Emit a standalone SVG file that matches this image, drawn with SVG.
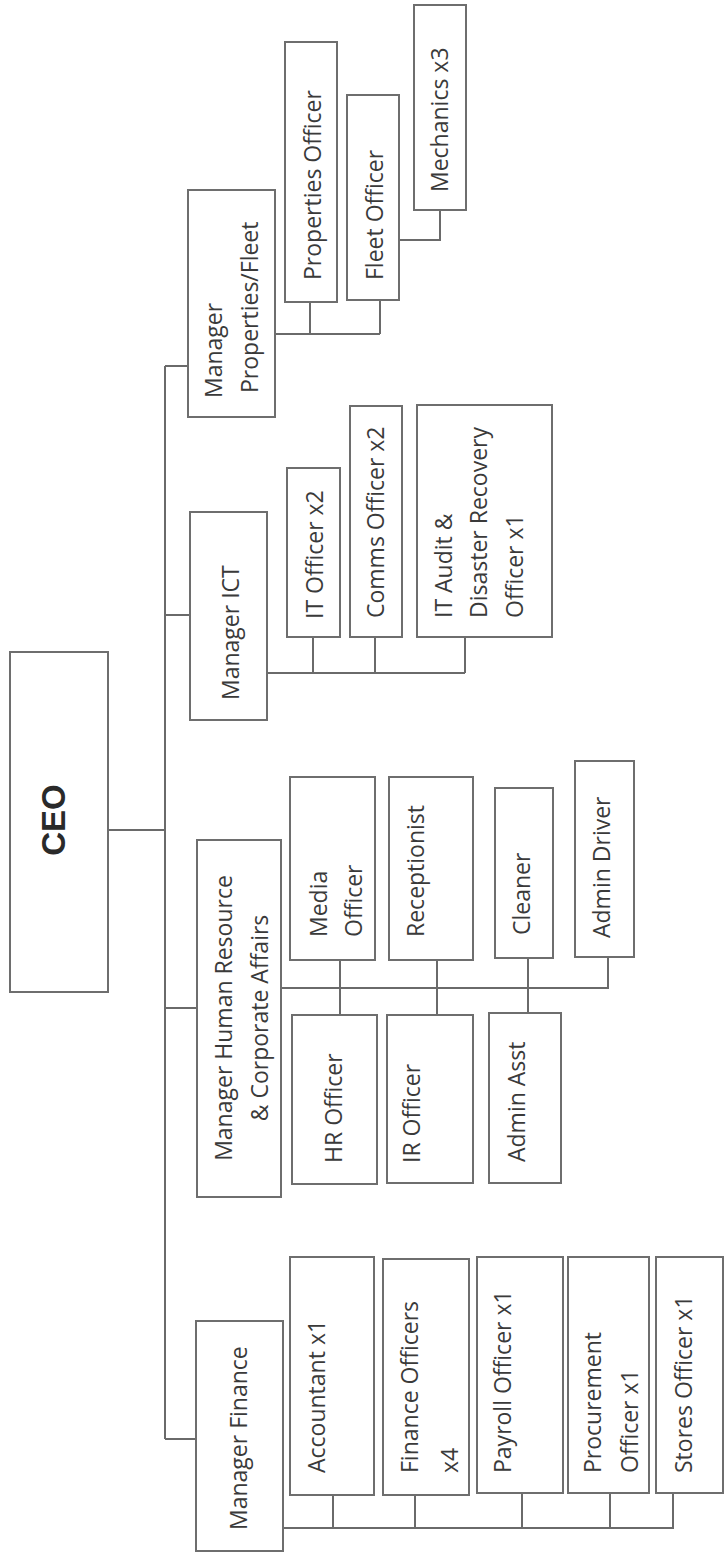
<svg xmlns="http://www.w3.org/2000/svg" width="725" height="1561" viewBox="0 0 725 1561">
<style>
.b{fill:#fff;stroke:#6e6e6e;stroke-width:2}
.t{font-family:"Open Sans","Liberation Sans",sans-serif;font-size:23px;fill:#3a3a3a}
.c{font-family:"Liberation Sans",Arial,sans-serif;font-size:33px;font-weight:bold;fill:#2a2a2a;text-anchor:middle}
.l{fill:none;stroke:#6a6a6a;stroke-width:2}
</style>
<rect width="725" height="1561" fill="#fff"/>
<g id="connectors" class="l">
<path d="M165,366V1439M165,366H188M165,615H190M108,830H165M165,1008H197M165,1439H196"/>
<path d="M275,334H380M310,334V302M380,334V300M399,240H440V210"/>
<path d="M267,673H465M313,637V673M375,637V673M465,637V673"/>
<path d="M281,988H608V957M340,960V1015M437,960V1015M528,958V1013"/>
<path d="M283,1528H673V1493M333,1495V1528M415,1495V1528M522,1493V1528M610,1493V1528"/>
</g>
<g id="ceo"><rect class="b" x="10" y="652" width="98" height="340"/><text class="c" transform="translate(65,820) rotate(-90)">CEO</text></g>
<g id="mgr-properties"><rect class="b" x="188" y="190" width="87" height="227"/><text class="t" transform="translate(222,398) rotate(-90)">Manager</text><text class="t" transform="translate(258,393) rotate(-90)">Properties/Fleet</text></g>
<g id="properties-officer"><rect class="b" x="285" y="42" width="52" height="260"/><text class="t" transform="translate(321,280) rotate(-90)">Properties Officer</text></g>
<g id="fleet-officer"><rect class="b" x="347" y="95" width="52" height="205"/><text class="t" transform="translate(383,280) rotate(-90)">Fleet Officer</text></g>
<g id="mechanics"><rect class="b" x="414" y="5" width="52" height="205"/><text class="t" transform="translate(448,192) rotate(-90)">Mechanics x3</text></g>
<g id="mgr-ict"><rect class="b" x="190" y="512" width="77" height="208"/><text class="t" transform="translate(239,700) rotate(-90)">Manager ICT</text></g>
<g id="it-officer"><rect class="b" x="287" y="468" width="53" height="169"/><text class="t" transform="translate(323,619) rotate(-90)">IT Officer x2</text></g>
<g id="comms-officer"><rect class="b" x="350" y="406" width="52" height="231"/><text class="t" transform="translate(384,618) rotate(-90)">Comms Officer x2</text></g>
<g id="it-audit"><rect class="b" x="417" y="405" width="135" height="232"/><text class="t" transform="translate(452,618) rotate(-90)">IT Audit &amp;</text><text class="t" transform="translate(487,618) rotate(-90)">Disaster Recovery</text><text class="t" transform="translate(523,618) rotate(-90)">Officer x1</text></g>
<g id="mgr-hr"><rect class="b" x="197" y="840" width="84" height="357"/><text class="t" text-anchor="middle" transform="translate(232,1018) rotate(-90)">Manager Human Resource</text><text class="t" text-anchor="middle" transform="translate(268,1018) rotate(-90)">&amp; Corporate Affairs</text></g>
<g id="media-officer"><rect class="b" x="290" y="777" width="85" height="183"/><text class="t" transform="translate(327,937) rotate(-90)">Media</text><text class="t" transform="translate(362,937) rotate(-90)">Officer</text></g>
<g id="receptionist"><rect class="b" x="389" y="777" width="84" height="183"/><text class="t" transform="translate(424,937) rotate(-90)">Receptionist</text></g>
<g id="cleaner"><rect class="b" x="495" y="788" width="58" height="170"/><text class="t" transform="translate(530,935) rotate(-90)">Cleaner</text></g>
<g id="admin-driver"><rect class="b" x="575" y="761" width="59" height="196"/><text class="t" transform="translate(610,938) rotate(-90)">Admin Driver</text></g>
<g id="hr-officer"><rect class="b" x="292" y="1015" width="85" height="169"/><text class="t" transform="translate(342,1163) rotate(-90)">HR Officer</text></g>
<g id="ir-officer"><rect class="b" x="387" y="1015" width="86" height="168"/><text class="t" transform="translate(420,1163) rotate(-90)">IR Officer</text></g>
<g id="admin-asst"><rect class="b" x="489" y="1013" width="72" height="170"/><text class="t" transform="translate(525,1162) rotate(-90)">Admin Asst</text></g>
<g id="mgr-finance"><rect class="b" x="196" y="1321" width="87" height="230"/><text class="t" transform="translate(247,1530) rotate(-90)">Manager Finance</text></g>
<g id="accountant"><rect class="b" x="290" y="1257" width="84" height="238"/><text class="t" transform="translate(325,1473) rotate(-90)">Accountant x1</text></g>
<g id="finance-officers"><rect class="b" x="383" y="1259" width="86" height="236"/><text class="t" transform="translate(418,1473) rotate(-90)">Finance Officers</text><text class="t" transform="translate(458,1473) rotate(-90)">x4</text></g>
<g id="payroll-officer"><rect class="b" x="477" y="1257" width="86" height="236"/><text class="t" transform="translate(511,1473) rotate(-90)">Payroll Officer x1</text></g>
<g id="procurement-officer"><rect class="b" x="568" y="1257" width="81" height="236"/><text class="t" transform="translate(601,1473) rotate(-90)">Procurement</text><text class="t" transform="translate(638,1473) rotate(-90)">Officer x1</text></g>
<g id="stores-officer"><rect class="b" x="656" y="1257" width="67" height="236"/><text class="t" transform="translate(692,1473) rotate(-90)">Stores Officer x1</text></g>
</svg>
